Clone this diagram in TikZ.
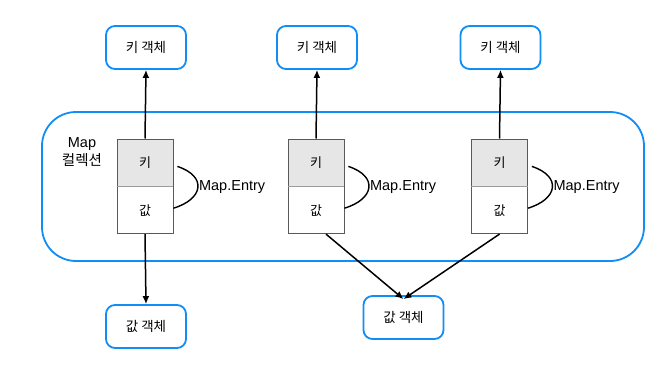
\documentclass[tikz,border=0pt]{standalone}
\usepackage{fontspec}
\setmainfont{Liberation Sans}
\newfontfamily\kr{Noto Sans CJK KR}
\usetikzlibrary{arrows.meta,calc}
\definecolor{mblue}{RGB}{16,142,245}
\definecolor{kgray}{RGB}{230,230,230}
\definecolor{bgray}{RGB}{90,90,90}
\tikzset{
  objbox/.style={draw=mblue,line width=1.8pt,rounded corners=9pt,minimum width=80pt,minimum height=43pt,inner sep=0pt,font=\kr\fontsize{13.5}{16}\selectfont},
  keycell/.style={draw=bgray,line width=0.8pt,fill=kgray,minimum width=56pt,minimum height=47pt,inner sep=0pt,font=\kr\fontsize{13}{15}\selectfont},
  valcell/.style={draw=bgray,line width=0.8pt,fill=white,minimum width=56pt,minimum height=47pt,inner sep=0pt,font=\kr\fontsize{13}{15}\selectfont},
  conn/.style={line width=1.5pt,-{Latex[length=8pt,width=7pt]}},
  entryarc/.style={line width=1.4pt},
  lbl/.style={font=\fontsize{14.5}{17}\selectfont,inner sep=0pt}
}
\begin{document}
\begin{tikzpicture}[x=1pt,y=-1pt]
\useasboundingbox (0,0) rectangle (670,367);
% container
\draw[draw=mblue,line width=1.8pt,rounded corners=34pt] (42,112) rectangle (644,261);
\node[lbl,align=center] (coll) at (82,152) {Map\\[1pt]{\kr 컬렉션}};
% key objects
\node[objbox] (k1) at (146,47.5) {키 객체};
\node[objbox] (k2) at (317,47.5) {키 객체};
\node[objbox] (k3) at (500.5,47.5) {키 객체};
% value objects
\node[objbox] (v1) at (146,326.5) {값 객체};
\node[objbox] (v2) at (403.5,317.5) {값 객체};
% entries
\foreach \i/\x in {1/145,2/316,3/499.5}{
  \node[keycell,anchor=south] (e\i k) at (\x,186.3) {키};
  \node[valcell,anchor=north] (e\i v) at (\x,186.3) {값};
  \draw[bgray!60,line width=0.8pt] (e\i k.south west) -- (e\i k.south east);
  \draw[entryarc] ($(e\i k.east)+(4,4)$) .. controls +(30,10) and +(30,-9) .. ($(e\i v.east)+(0,-2)$);
  \node[lbl,anchor=west] (m\i) at ($(e\i k.east)+(25.5,25)$) {Map.Entry};
}
% connectors
\draw[conn] (e1k.north) -- (k1.south);
\draw[conn] (e2k.north) -- (k2.south);
\draw[conn] (e3k.north) -- (k3.south);
\draw[conn] (e1v.south) -- (v1.north);
\draw[conn] ([xshift=10pt]e2v.south) -- ([yshift=-4pt]v2.north);
\draw[conn] (e3v.south) -- ([yshift=-4pt]v2.north);
\end{tikzpicture}
\end{document}
